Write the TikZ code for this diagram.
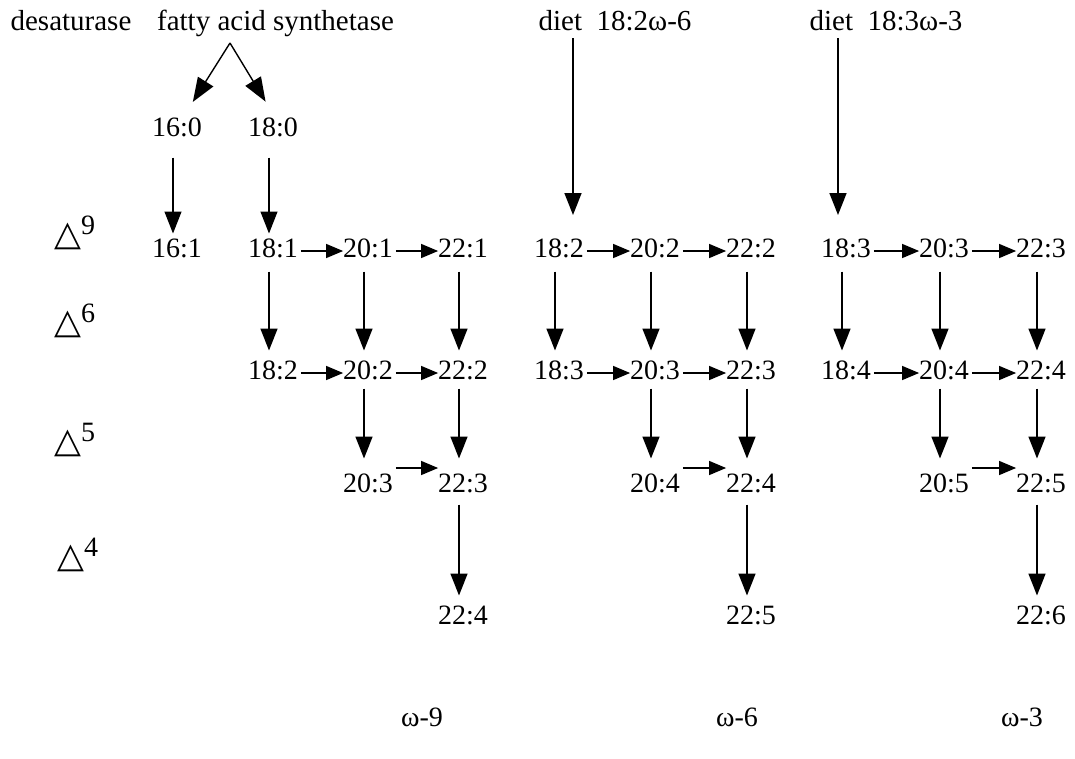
\documentclass[tikz,border=0pt]{standalone}
\usepackage{fontspec}
\setmainfont{Liberation Serif}
\newfontfamily\symfont{DejaVu Sans}
\usetikzlibrary{arrows.meta}
\newcommand\VA[3][]{\draw[varr,#1] ([xshift=-4pt]#2.south) -- ([xshift=-4pt]#3.north);}
\newcommand\HA[3][-3pt]{\draw[harr] ([yshift=#1]#2.east) -- ([yshift=#1]#3.west);}
\newcommand\tri[1]{{\fontsize{35}{36}\symfont △}\raisebox{11pt}{#1}}
\begin{document}
\begin{tikzpicture}[x=1pt,y=-1pt,
  lbl/.style={font=\fontsize{28}{32}\selectfont, inner sep=0pt, outer sep=0pt, text height=19pt, text depth=0pt},
  hdr/.style={font=\fontsize{29}{33}\selectfont, inner sep=0pt, outer sep=0pt, anchor=base},
  dl/.style={font=\fontsize{28}{32}\selectfont, inner sep=0pt, anchor=base west},
  varr/.style={line width=1.6pt, -{Triangle[length=22pt,width=17pt]}},
  harr/.style={line width=1.3pt, shorten <=3pt, -{Triangle[length=17pt,width=14pt]}},
  fas/.style={line width=1.4pt, shorten >=29.7pt, -{Triangle[length=24pt,width=18pt]}},
  d9/.style={line width=1.2pt, shorten <=21pt, shorten >=5pt},
  d6/.style={shorten <=14pt, shorten >=10pt},
  d5/.style={shorten <=9pt, shorten >=15pt},
  d4/.style={shorten <=12pt, shorten >=10pt},
  dt/.style={shorten <=8pt, shorten >=23.5pt}
]
\useasboundingbox (0,0) rectangle (1075,758);

% headers
\node[hdr] (des) at (71,30) {desaturase};
\node[hdr] (fas) at (275.5,30) {fatty acid synthetase};
\node[hdr] (diet6) at (615,30) {diet\ \ 18:2ω-6};
\node[hdr] (diet3) at (886,30) {diet\ \ 18:3ω-3};

% desaturase labels
\node[dl] (D9) at (54,245) {\tri{9}};
\node[dl] (D6) at (54,333) {\tri{6}};
\node[dl] (D5) at (54,452) {\tri{5}};
\node[dl] (D4) at (57,567) {\tri{4}};

% row 0
\node[lbl] (n160) at (177,127) {16:0};
\node[lbl] (n180) at (273,127) {18:0};
\node[lbl] (n161) at (177,248) {16:1};

% omega-9
\node[lbl] (w9a1) at (273,248) {18:1};
\node[lbl] (w9b1) at (368,248) {20:1};
\node[lbl] (w9c1) at (463,248) {22:1};
\node[lbl] (w9a2) at (273,370) {18:2};
\node[lbl] (w9b2) at (368,370) {20:2};
\node[lbl] (w9c2) at (463,370) {22:2};
\node[lbl] (w9b3) at (368,483) {20:3};
\node[lbl] (w9c3) at (463,483) {22:3};
\node[lbl] (w9c4) at (463,615) {22:4};

% omega-6
\node[lbl] (w6a1) at (559,248) {18:2};
\node[lbl] (w6b1) at (655,248) {20:2};
\node[lbl] (w6c1) at (751,248) {22:2};
\node[lbl] (w6a2) at (559,370) {18:3};
\node[lbl] (w6b2) at (655,370) {20:3};
\node[lbl] (w6c2) at (751,370) {22:3};
\node[lbl] (w6b3) at (655,483) {20:4};
\node[lbl] (w6c3) at (751,483) {22:4};
\node[lbl] (w6c4) at (751,615) {22:5};

% omega-3
\node[lbl] (w3a1) at (846,248) {18:3};
\node[lbl] (w3b1) at (944,248) {20:3};
\node[lbl] (w3c1) at (1041,248) {22:3};
\node[lbl] (w3a2) at (846,370) {18:4};
\node[lbl] (w3b2) at (944,370) {20:4};
\node[lbl] (w3c2) at (1041,370) {22:4};
\node[lbl] (w3b3) at (944,483) {20:5};
\node[lbl] (w3c3) at (1041,483) {22:5};
\node[lbl] (w3c4) at (1041,615) {22:6};

% bottom labels
\node[lbl] (o9) at (422,717) {ω-9};
\node[lbl] (o6) at (737,717) {ω-6};
\node[lbl] (o3) at (1022,717) {ω-3};

% fatty acid synthetase arrows
\coordinate (apex) at (230,43);
\draw[fas] (apex) -- (n160.center);
\draw[fas] (apex) -- ([xshift=8pt]n180.center);

% diet arrows
\path ([xshift=-42pt]diet6.south) coordinate (d6s);
\path ([xshift=-48pt]diet3.south) coordinate (d3s);
\draw[varr,dt] (d6s) -- (d6s |- w6a1.north);
\draw[varr,dt] (d3s) -- (d3s |- w3a1.north);

% delta 9
\VA[d9]{n160}{n161}
\VA[d9]{n180}{w9a1}

% delta 6
\VA[d6]{w9a1}{w9a2} \VA[d6]{w9b1}{w9b2} \VA[d6]{w9c1}{w9c2}
\VA[d6]{w6a1}{w6a2} \VA[d6]{w6b1}{w6b2} \VA[d6]{w6c1}{w6c2}
\VA[d6]{w3a1}{w3a2} \VA[d6]{w3b1}{w3b2} \VA[d6]{w3c1}{w3c2}

% delta 5
\VA[d5]{w9b2}{w9b3} \VA[d5]{w9c2}{w9c3}
\VA[d5]{w6b2}{w6b3} \VA[d5]{w6c2}{w6c3}
\VA[d5]{w3b2}{w3b3} \VA[d5]{w3c2}{w3c3}

% delta 4
\VA[d4]{w9c3}{w9c4}
\VA[d4]{w6c3}{w6c4}
\VA[d4]{w3c3}{w3c4}

% horizontal elongation arrows
\HA{w9a1}{w9b1} \HA{w9b1}{w9c1}
\HA{w9a2}{w9b2} \HA{w9b2}{w9c2}
\HA[15pt]{w9b3}{w9c3}
\HA{w6a1}{w6b1} \HA{w6b1}{w6c1}
\HA{w6a2}{w6b2} \HA{w6b2}{w6c2}
\HA[15pt]{w6b3}{w6c3}
\HA{w3a1}{w3b1} \HA{w3b1}{w3c1}
\HA{w3a2}{w3b2} \HA{w3b2}{w3c2}
\HA[15pt]{w3b3}{w3c3}
\end{tikzpicture}
\end{document}
